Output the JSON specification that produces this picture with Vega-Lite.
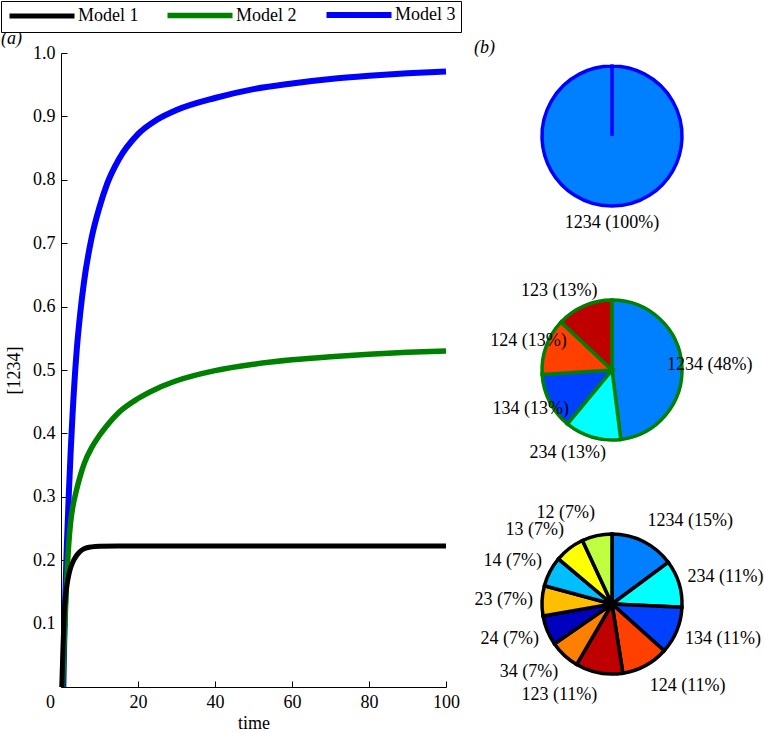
{
  "$schema": "https://vega.github.io/schema/vega-lite/v6.json",
  "padding": 0,
  "autosize": {"type": "pad"},
  "bounds": "flush",
  "spacing": 46,
  "config": {
    "font": "Liberation Serif",
    "view": {"stroke": null},
    "axis": {
      "labelFont": "Liberation Serif", "labelFontSize": 18, "labelColor": "black",
      "titleFont": "Liberation Serif", "titleFontSize": 18, "titleFontWeight": "normal", "titleColor": "black",
      "domainColor": "black", "tickColor": "black", "grid": false
    }
  },
  "datasets": {
    "lines": [
      {"t": 0.6, "v": 0, "model": "Model 3"},
      {"t": 1, "v": 0.12, "model": "Model 3"},
      {"t": 1.5, "v": 0.22, "model": "Model 3"},
      {"t": 2, "v": 0.30, "model": "Model 3"},
      {"t": 2.5, "v": 0.37, "model": "Model 3"},
      {"t": 3, "v": 0.43, "model": "Model 3"},
      {"t": 4, "v": 0.525, "model": "Model 3"},
      {"t": 5, "v": 0.59, "model": "Model 3"},
      {"t": 6, "v": 0.64, "model": "Model 3"},
      {"t": 8, "v": 0.71, "model": "Model 3"},
      {"t": 10, "v": 0.757, "model": "Model 3"},
      {"t": 12, "v": 0.794, "model": "Model 3"},
      {"t": 15, "v": 0.832, "model": "Model 3"},
      {"t": 20, "v": 0.872, "model": "Model 3"},
      {"t": 25, "v": 0.895, "model": "Model 3"},
      {"t": 30, "v": 0.91, "model": "Model 3"},
      {"t": 40, "v": 0.929, "model": "Model 3"},
      {"t": 50, "v": 0.943, "model": "Model 3"},
      {"t": 60, "v": 0.952, "model": "Model 3"},
      {"t": 70, "v": 0.959, "model": "Model 3"},
      {"t": 80, "v": 0.964, "model": "Model 3"},
      {"t": 90, "v": 0.968, "model": "Model 3"},
      {"t": 100, "v": 0.971, "model": "Model 3"},
      {"t": 0.4, "v": 0, "model": "Model 2"},
      {"t": 0.7, "v": 0.05, "model": "Model 2"},
      {"t": 1, "v": 0.10, "model": "Model 2"},
      {"t": 1.5, "v": 0.17, "model": "Model 2"},
      {"t": 2, "v": 0.225, "model": "Model 2"},
      {"t": 2.5, "v": 0.26, "model": "Model 2"},
      {"t": 3, "v": 0.282, "model": "Model 2"},
      {"t": 4, "v": 0.31, "model": "Model 2"},
      {"t": 5, "v": 0.333, "model": "Model 2"},
      {"t": 6, "v": 0.352, "model": "Model 2"},
      {"t": 8, "v": 0.378, "model": "Model 2"},
      {"t": 10, "v": 0.397, "model": "Model 2"},
      {"t": 12, "v": 0.413, "model": "Model 2"},
      {"t": 15, "v": 0.433, "model": "Model 2"},
      {"t": 20, "v": 0.455, "model": "Model 2"},
      {"t": 25, "v": 0.471, "model": "Model 2"},
      {"t": 30, "v": 0.483, "model": "Model 2"},
      {"t": 40, "v": 0.499, "model": "Model 2"},
      {"t": 50, "v": 0.509, "model": "Model 2"},
      {"t": 60, "v": 0.516, "model": "Model 2"},
      {"t": 70, "v": 0.521, "model": "Model 2"},
      {"t": 80, "v": 0.525, "model": "Model 2"},
      {"t": 90, "v": 0.528, "model": "Model 2"},
      {"t": 100, "v": 0.53, "model": "Model 2"},
      {"t": 0.2, "v": 0, "model": "Model 1"},
      {"t": 0.5, "v": 0.06, "model": "Model 1"},
      {"t": 0.8, "v": 0.11, "model": "Model 1"},
      {"t": 1.2, "v": 0.145, "model": "Model 1"},
      {"t": 1.6, "v": 0.163, "model": "Model 1"},
      {"t": 2, "v": 0.176, "model": "Model 1"},
      {"t": 2.5, "v": 0.188, "model": "Model 1"},
      {"t": 3, "v": 0.196, "model": "Model 1"},
      {"t": 4, "v": 0.207, "model": "Model 1"},
      {"t": 5, "v": 0.214, "model": "Model 1"},
      {"t": 6, "v": 0.218, "model": "Model 1"},
      {"t": 8, "v": 0.221, "model": "Model 1"},
      {"t": 10, "v": 0.222, "model": "Model 1"},
      {"t": 15, "v": 0.2225, "model": "Model 1"},
      {"t": 20, "v": 0.2225, "model": "Model 1"},
      {"t": 40, "v": 0.2225, "model": "Model 1"},
      {"t": 60, "v": 0.2225, "model": "Model 1"},
      {"t": 80, "v": 0.2225, "model": "Model 1"},
      {"t": 100, "v": 0.2225, "model": "Model 1"}
    ],
    "pie1": [
      {"k": 1, "set": "1234", "share": 100, "label": "1234 (100%)"}
    ],
    "pie2": [
      {"k": 1, "set": "1234", "share": 48, "label": "1234 (48%)"},
      {"k": 2, "set": "234", "share": 13, "label": "234 (13%)"},
      {"k": 3, "set": "134", "share": 13, "label": "134 (13%)"},
      {"k": 4, "set": "124", "share": 13, "label": "124 (13%)"},
      {"k": 5, "set": "123", "share": 13, "label": "123 (13%)"}
    ],
    "pie3": [
      {"k": 1, "set": "1234", "share": 15, "label": "1234 (15%)"},
      {"k": 2, "set": "234", "share": 11, "label": "234 (11%)"},
      {"k": 3, "set": "134", "share": 11, "label": "134 (11%)"},
      {"k": 4, "set": "124", "share": 11, "label": "124 (11%)"},
      {"k": 5, "set": "123", "share": 11, "label": "123 (11%)"},
      {"k": 6, "set": "34", "share": 7, "label": "34 (7%)"},
      {"k": 7, "set": "24", "share": 7, "label": "24 (7%)"},
      {"k": 8, "set": "23", "share": 7, "label": "23 (7%)"},
      {"k": 9, "set": "14", "share": 7, "label": "14 (7%)"},
      {"k": 10, "set": "13", "share": 7, "label": "13 (7%)"},
      {"k": 11, "set": "12", "share": 7, "label": "12 (7%)"}
    ]
  },
  "hconcat": [
    {
      "width": 385,
      "height": 634,
      "title": {"text": "(a)", "anchor": "start", "frame": "group", "dx": -60, "offset": -4, "fontSize": 18, "fontWeight": "normal", "font": "Liberation Serif", "fontStyle": "italic", "color": "black"},
      "data": {"name": "lines"},
      "mark": {"type": "line", "interpolate": "monotone"},
      "encoding": {
        "x": {"field": "t", "type": "quantitative", "scale": {"domain": [0, 100], "nice": false},
              "axis": {"title": "time", "values": [0, 20, 40, 60, 80, 100], "format": "d", "tickSize": -6, "labelPadding": 12, "titlePadding": 3, "labelFlush": false,
                       "labelOffset": {"condition": {"test": "datum.value === 0", "value": -11}, "value": 0}}},
        "y": {"field": "v", "type": "quantitative", "scale": {"domain": [0, 1], "nice": false},
              "axis": {"title": "[1234]", "values": [0.1, 0.2, 0.3, 0.4, 0.5, 0.6, 0.7, 0.8, 0.9, 1.0], "format": ".1f", "tickSize": -6, "labelPadding": 12, "titlePadding": 9}},
        "color": {"field": "model", "type": "nominal",
                  "scale": {"domain": ["Model 1", "Model 2", "Model 3"], "range": ["#000000", "#008000", "#0000FF"]},
                  "legend": {"orient": "none", "legendX": -60, "legendY": -52, "direction": "horizontal", "title": null,
                             "strokeColor": "black", "fillColor": "white", "padding": 5,
                             "symbolType": "M-6.5,0H6.5", "symbolSize": 100, "symbolStrokeWidth": 4, "symbolOffset": 27,
                             "labelFont": "Liberation Serif", "labelFontSize": 18, "labelColor": "black",
                             "labelOffset": 27, "columnPadding": 17, "labelLimit": 200,
                             "encode": {"symbols": {"update": {"strokeWidth": {"signal": "datum.value === 'Model 3' ? 6 : datum.value === 'Model 2' ? 5 : 4"}}}}}},
        "strokeWidth": {"field": "model", "type": "ordinal", "scale": {"domain": ["Model 1", "Model 2", "Model 3"], "range": [5, 6, 8]}, "legend": null}
      }
    },
    {
      "bounds": "flush",
      "spacing": 68,
      "vconcat": [
        {
          "width": 240, "height": 166,
          "title": {"text": "(b)", "anchor": "start", "frame": "group", "dx": -18, "offset": -4, "fontSize": 18, "fontWeight": "normal", "font": "Liberation Serif", "fontStyle": "italic", "color": "black"},
          "data": {"name": "pie1"},
          "encoding": {
            "theta": {"field": "share", "type": "quantitative", "stack": "normalize", "scale": {"domain": [0, 1], "range": [0, 6.2831]}},
            "order": {"field": "k", "type": "quantitative"}
          },
          "layer": [
            {"mark": {"type": "arc", "outerRadius": 70, "stroke": "#0000FF", "strokeWidth": 3.5},
             "encoding": {"fill": {"field": "set", "type": "nominal",
               "scale": {"domain": ["1234", "234", "134", "124", "123", "34", "24", "23", "14", "13", "12"],
                         "range": ["#0080FF", "#00FFFF", "#0040FF", "#FF4000", "#BF0000", "#FF8000", "#0000BF", "#FFBF00", "#00BFFF", "#FFFF00", "#BFFF40"]},
               "legend": null}}},
            {"mark": {"type": "text", "radius": 87, "fontSize": 18, "font": "Liberation Serif", "color": "black", "align": "center", "baseline": "middle"},
             "encoding": {"text": {"field": "label"}}}
          ]
        },
        {
          "width": 240, "height": 166,
          "data": {"name": "pie2"},
          "encoding": {
            "theta": {"field": "share", "type": "quantitative", "stack": "normalize", "scale": {"domain": [0, 1], "range": [0, 6.2831]}},
            "order": {"field": "k", "type": "quantitative"}
          },
          "layer": [
            {"mark": {"type": "arc", "outerRadius": 70, "stroke": "#008000", "strokeWidth": 3.5},
             "encoding": {"fill": {"field": "set", "type": "nominal",
               "scale": {"domain": ["1234", "234", "134", "124", "123", "34", "24", "23", "14", "13", "12"],
                         "range": ["#0080FF", "#00FFFF", "#0040FF", "#FF4000", "#BF0000", "#FF8000", "#0000BF", "#FFBF00", "#00BFFF", "#FFFF00", "#BFFF40"]},
               "legend": null}}},
            {"mark": {"type": "text", "radius": 86, "fontSize": 18, "font": "Liberation Serif", "color": "black", "align": "center", "baseline": "middle",
                      "dx": {"expr": "sin(PI * (datum.share_start + datum.share_end)) > 0 ? 12 * pow(sin(PI * (datum.share_start + datum.share_end)), 2) : -22 * pow(cos(PI * (datum.share_start + datum.share_end)), 2)"}},
             "encoding": {"text": {"field": "label"}}}
          ]
        },
        {
          "width": 240, "height": 166,
          "data": {"name": "pie3"},
          "encoding": {
            "theta": {"field": "share", "type": "quantitative", "stack": "normalize", "scale": {"domain": [0, 1], "range": [0, 6.2831]}},
            "order": {"field": "k", "type": "quantitative"}
          },
          "layer": [
            {"mark": {"type": "arc", "outerRadius": 70, "stroke": "#000000", "strokeWidth": 3.5},
             "encoding": {"fill": {"field": "set", "type": "nominal",
               "scale": {"domain": ["1234", "234", "134", "124", "123", "34", "24", "23", "14", "13", "12"],
                         "range": ["#0080FF", "#00FFFF", "#0040FF", "#FF4000", "#BF0000", "#FF8000", "#0000BF", "#FFBF00", "#00BFFF", "#FFFF00", "#BFFF40"]},
               "legend": null}}},
            {"mark": {"type": "text", "radius": 79, "fontSize": 18, "font": "Liberation Serif", "color": "black",
                      "align": {"expr": "(datum.share_start + datum.share_end) < 1 ? 'left' : 'right'"}, "baseline": "middle",
                      "dy": {"expr": "-cos(PI * (datum.share_start + datum.share_end)) * 14"}},
             "encoding": {"text": {"field": "label"}}}
          ]
        }
      ]
    }
  ]
}
